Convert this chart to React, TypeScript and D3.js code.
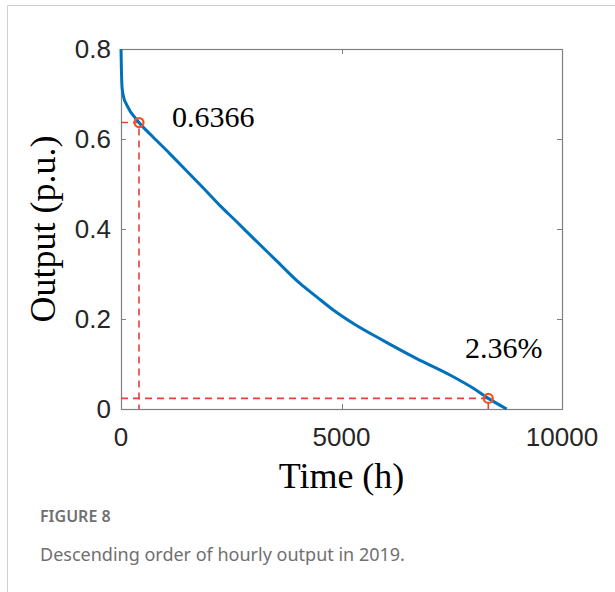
import React, { useEffect, useRef } from "react";
import * as d3 from "d3";

// sorted hourly output (duration curve)
const hours = [0, 8, 23, 60, 129, 408, 732, 1111, 1490, 1866, 2245, 2624, 2964, 3500, 4059, 4438, 4814, 5268, 5948, 6705, 7460, 7989, 8329, 8746];
const output = [0.8, 0.76, 0.716, 0.693, 0.676, 0.6366, 0.604, 0.567, 0.529, 0.491, 0.452, 0.416, 0.383, 0.332, 0.279, 0.249, 0.22, 0.19, 0.152, 0.112, 0.0756, 0.046, 0.0236, 0];

// marked points
const markHours = [408, 8329];
const markValues = [0.6366, 0.0236];
const markLabels = ["0.6366", "2.36%"];

const xTicks = [0, 5000, 10000];
const yTicks = [0, 0.2, 0.4, 0.6, 0.8];

export default function App() {
    const svgRef = useRef<SVGSVGElement>(null);

    useEffect(() => {
        const width = 615;
        const height = 592;
        const left = 121, right = 562, top = 49, bottom = 409;

        const svg = d3.select(svgRef.current);
        svg.selectAll("*").remove();
        svg.attr("width", width).attr("height", height);

        svg.append("rect").attr("width", width).attr("height", height).attr("fill", "#fff");

        // card border (left + top)
        svg.append("path")
            .attr("d", `M7.5,${height} V5.5 H${width}`)
            .attr("fill", "none")
            .attr("stroke", "#cfcfcf")
            .attr("stroke-width", 1);

        const x = d3.scaleLinear().domain([0, 10000]).range([left, right]);
        const y = d3.scaleLinear().domain([0, 0.8]).range([bottom, top]);

        // axes box
        const axisColor = "#808080";
        svg.append("rect")
            .attr("x", left + 0.5)
            .attr("y", top + 0.5)
            .attr("width", right - left)
            .attr("height", bottom - top)
            .attr("fill", "none")
            .attr("stroke", axisColor)
            .attr("stroke-width", 1.2);

        // inner ticks on all four sides
        const tl = 5;
        xTicks.forEach(t => {
            const px = Math.round(x(t)) + 0.5;
            svg.append("line").attr("x1", px).attr("x2", px).attr("y1", bottom).attr("y2", bottom - tl).attr("stroke", axisColor);
            svg.append("line").attr("x1", px).attr("x2", px).attr("y1", top).attr("y2", top + tl).attr("stroke", axisColor);
            svg.append("text")
                .attr("x", x(t))
                .attr("y", 446)
                .attr("text-anchor", "middle")
                .attr("font-family", "Liberation Sans, Arial, sans-serif")
                .attr("font-size", 26)
                .attr("fill", "#262626")
                .text(d3.format("d")(t));
        });
        yTicks.forEach(t => {
            const py = Math.round(y(t)) + 0.5;
            svg.append("line").attr("x1", left).attr("x2", left + tl).attr("y1", py).attr("y2", py).attr("stroke", axisColor);
            svg.append("line").attr("x1", right).attr("x2", right - tl).attr("y1", py).attr("y2", py).attr("stroke", axisColor);
            svg.append("text")
                .attr("x", 111)
                .attr("y", y(t) + 9)
                .attr("text-anchor", "end")
                .attr("font-family", "Liberation Sans, Arial, sans-serif")
                .attr("font-size", 26)
                .attr("fill", "#262626")
                .text(t === 0 ? "0" : d3.format(".1f")(t));
        });

        // red dashed guide lines
        const red = "#e8403c";
        markHours.forEach((h, i) => {
            svg.append("path")
                .attr("d", `M${x(0)},${y(markValues[i])} H${x(h)} V${y(0)}`)
                .attr("fill", "none")
                .attr("stroke", red)
                .attr("stroke-width", 1.6)
                .attr("stroke-dasharray", "7,5");
        });

        // duration curve
        const line = d3.line<number>()
            .x((d, i) => x(hours[i]))
            .y(d => y(d))
            .curve(d3.curveMonotoneX);

        svg.append("path")
            .datum(output)
            .attr("d", line)
            .attr("fill", "none")
            .attr("stroke", "#0072bd")
            .attr("stroke-width", 3);

        // markers + labels
        markHours.forEach((h, i) => {
            svg.append("circle")
                .attr("cx", x(h))
                .attr("cy", y(markValues[i]))
                .attr("r", 4.5)
                .attr("fill", "none")
                .attr("stroke", "#f5501e")
                .attr("stroke-width", 2.2);
        });
        const labelPos = [[172, 127], [465, 358]];
        markLabels.forEach((lab, i) => {
            svg.append("text")
                .attr("x", labelPos[i][0])
                .attr("y", labelPos[i][1])
                .attr("font-family", "Liberation Serif, Times New Roman, serif")
                .attr("font-size", 30)
                .attr("fill", "#000")
                .text(lab);
        });

        // axis titles
        svg.append("text")
            .attr("x", (left + right) / 2)
            .attr("y", 488)
            .attr("text-anchor", "middle")
            .attr("font-family", "Liberation Serif, Times New Roman, serif")
            .attr("font-size", 36)
            .attr("fill", "#000")
            .text("Time (h)");

        svg.append("text")
            .attr("transform", `translate(55, ${(top + bottom) / 2}) rotate(-90)`)
            .attr("text-anchor", "middle")
            .attr("font-family", "Liberation Serif, Times New Roman, serif")
            .attr("font-size", 36)
            .attr("fill", "#000")
            .text("Output (p.u.)");

        // caption
        svg.append("text")
            .attr("x", 40)
            .attr("y", 522)
            .attr("font-family", "Noto Sans, Open Sans, sans-serif")
            .attr("font-weight", 600)
            .attr("font-size", 16)
            .attr("fill", "#707070")
            .text("FIGURE 8");
        svg.append("text")
            .attr("x", 40)
            .attr("y", 561)
            .attr("font-family", "Noto Sans, Open Sans, sans-serif")
            .attr("font-size", 18)
            .attr("fill", "#707070")
            .text("Descending order of hourly output in 2019.");
    }, []);

    return <svg ref={svgRef} style={{ position: "absolute", left: 0, top: 0 }}></svg>;
}
